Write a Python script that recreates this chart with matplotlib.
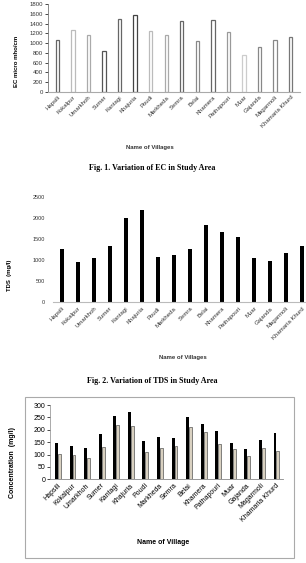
import numpy as np
import matplotlib
matplotlib.use("Agg")
import matplotlib.pyplot as plt
from matplotlib.patches import Rectangle

# village names (same for all three figures)
villages = ["Hapsili", "Kokalpur", "Umarkhoh", "Sumer", "Kantagi", "Khajuria",
            "Poudi", "Markheda", "Semra", "Belai", "Khamera", "Pathapouri",
            "Muar", "Gajanda", "Magarmoli", "Khamaria Khurd"]

# Fig 1 - EC (micro mho/cm)
ec = [1070, 1275, 1170, 845, 1485, 1580, 1255, 1170, 1455, 1035, 1480, 1235,
      750, 920, 1055, 1130]
ec_ticks = [0, 200, 400, 600, 800, 1000, 1200, 1400, 1600, 1800]

# Fig 2 - TDS (mg/l)
tds = [1250, 950, 1050, 1335, 1995, 2200, 1065, 1115, 1265, 1845, 1660, 1545,
       1040, 965, 1160, 1335]
tds_ticks = [0, 500, 1000, 1500, 2000, 2500]

# Fig 3 - two concentration series (mg/l)
conc_a = [145, 136, 126, 181, 257, 273, 154, 172, 167, 250, 223, 194, 147, 124, 160, 185]
conc_b = [103, 97, 86, 130, 219, 215, 110, 125, 135, 212, 190, 142, 124, 93, 126, 115]
conc_ticks = [0, 50, 100, 150, 200, 250, 300]

W, H = 306, 563
fig = plt.figure(figsize=(W / 100, H / 100), dpi=100)
plt.rcParams['font.family'] = ['Liberation Sans', 'DejaVu Sans']

def px_axes(left, top, right, bottom):
    return fig.add_axes([left / W, 1 - bottom / H, (right - left) / W, (bottom - top) / H])

x = np.arange(len(villages))

# ---------------- Fig 1 ----------------
ax1 = px_axes(48, 4, 300, 92)
edge_cols = ["#666666", "#bbbbbb", "#aaaaaa", "#555555", "#666666", "#444444",
             "#bbbbbb", "#aaaaaa", "#666666", "#888888", "#666666", "#999999",
             "#cccccc", "#888888", "#888888", "#777777"]
ax1.bar(x, ec, width=0.22, color="white", edgecolor=edge_cols, linewidth=0.9)
ax1.set_xlim(-0.6, len(villages) - 0.4)
ax1.set_ylim(0, 1800)
ax1.set_yticks(ec_ticks)
ax1.set_ylabel("EC micro mho/cm", fontsize=4.3, fontweight="bold")
ax1.yaxis.set_label_coords(-0.115, 0.35)
ax1.set_xticks(x)
ax1.set_xticklabels(villages, rotation=45, ha="right", rotation_mode="anchor", fontsize=4.3, color="#333333")
ax1.tick_params(axis="y", labelsize=4.3, length=2, width=0.5, pad=1.5, labelcolor="#333333")
ax1.tick_params(axis="x", length=0, pad=2)
for s in ["top", "right"]:
    ax1.spines[s].set_visible(False)
ax1.spines["left"].set_color("#777777")
ax1.spines["left"].set_linewidth(0.6)
ax1.spines["bottom"].set_color("#aaaaaa")
ax1.spines["bottom"].set_linewidth(0.8)
fig.text(150 / W, 1 - 147 / H, "Name of Villages", fontsize=4.3, fontweight="bold",
         ha="center", va="center", color="#333333")
fig.text(152 / W, 1 - 168 / H, "Fig. 1. Variation of EC in Study Area", fontsize=5.8,
         fontweight="bold", family="Liberation Serif", ha="center", va="center")

# ---------------- Fig 2 ----------------
ax2 = px_axes(53, 197.3, 311, 301.7)
ax2.bar(x, tds, width=0.26, color="black")
ax2.set_xlim(-0.55, len(villages) - 0.45)
ax2.set_ylim(0, 2500)
ax2.set_yticks(tds_ticks)
ax2.set_ylabel("TDS  (mg/l)", fontsize=4.3, fontweight="bold")
ax2.yaxis.set_label_coords(-0.16, 0.25)
ax2.set_xticks(x)
ax2.set_xticklabels(villages, rotation=45, ha="right", rotation_mode="anchor", fontsize=4.3, color="#333333")
ax2.tick_params(axis="y", labelsize=4.0, length=0, pad=6, labelcolor="#333333")
ax2.tick_params(axis="x", length=0, pad=3)
for s in ["top", "right", "left"]:
    ax2.spines[s].set_visible(False)
ax2.spines["bottom"].set_color("#bbbbbb")
ax2.spines["bottom"].set_linewidth(0.8)
fig.text(183 / W, 1 - 358 / H, "Name of Villages", fontsize=4.3, fontweight="bold",
         ha="center", va="center", color="#333333")
fig.text(152 / W, 1 - 381 / H, "Fig. 2. Variation of TDS in Study Area", fontsize=5.8,
         fontweight="bold", family="Liberation Serif", ha="center", va="center")

# ---------------- Fig 3 ----------------
fig.patches.append(Rectangle((25 / W, 1 - 558 / H), 269 / W, 161 / H, transform=fig.transFigure,
                             fill=False, edgecolor="#aaaaaa", linewidth=0.8))
ax3 = px_axes(50, 405, 283, 479.3)
bw = 0.2
ax3.bar(x - bw / 2 + 0.05, conc_a, width=bw, color="black")
ax3.bar(x + bw / 2 + 0.05, conc_b, width=bw, color="#d9d1c1", edgecolor="#555555", linewidth=0.5)
ax3.set_xlim(-0.5, len(villages) - 0.5)
ax3.set_ylim(0, 300)
ax3.set_yticks(conc_ticks)
ax3.set_ylabel("Concentration  (mg/l)", fontsize=5.0, fontweight="bold")
ax3.yaxis.set_label_coords(-0.145, 0.23)
ax3.set_xticks(x)
ax3.set_xticklabels(villages, rotation=45, ha="right", rotation_mode="anchor", fontsize=5.0)
ax3.tick_params(axis="y", labelsize=5.0, length=2, width=0.5, pad=1.5)
ax3.tick_params(axis="x", length=0, pad=2)
for s in ["top", "right"]:
    ax3.spines[s].set_visible(False)
ax3.spines["left"].set_color("#888888")
ax3.spines["left"].set_linewidth(0.5)
ax3.spines["bottom"].set_color("#888888")
ax3.spines["bottom"].set_linewidth(0.6)
fig.text(163 / W, 1 - 543 / H, "Name of Village", fontsize=5.0, fontweight="bold",
         ha="center", va="center")

fig.savefig("out.png", dpi=100, facecolor="white")
